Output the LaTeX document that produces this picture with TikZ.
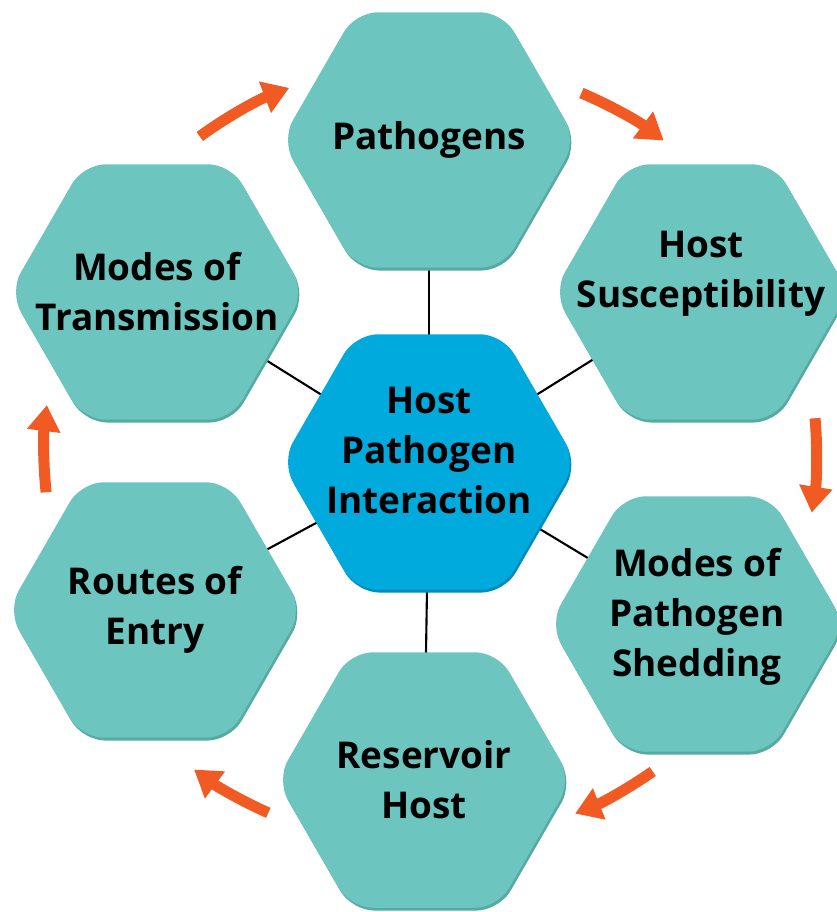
\documentclass[tikz,border=0pt]{standalone}
\usepackage{fontspec}
\setmainfont{Open Sans}
\usetikzlibrary{shapes.geometric,arrows.meta,backgrounds,shadows}

\definecolor{hexteal}{RGB}{108,197,190}
\definecolor{hexrim}{RGB}{86,170,162}
\definecolor{hubblue}{RGB}{0,170,221}
\definecolor{hubrim}{RGB}{0,140,188}
\definecolor{cycleorange}{RGB}{241,90,34}

\tikzset{
  hexbase/.style={regular polygon,regular polygon sides=6,minimum size=5.9cm,
    inner xsep=-1.6cm,inner ysep=0pt,rounded corners=0.45cm,align=center,
    font=\bfseries\fontsize{21}{28.5}\selectfont},
  hexcell/.style={hexbase,fill=hexteal,
    drop shadow={shadow xshift=0.8pt,shadow yshift=-1.6pt,fill=hexrim,opacity=1}},
  hubcell/.style={hexbase,fill=hubblue,
    drop shadow={shadow xshift=0.8pt,shadow yshift=-1.6pt,fill=hubrim,opacity=1}},
  spoke/.style={line width=1.2pt},
  flow/.style={cycleorange,line width=0.22cm,-{Triangle[width=0.64cm,length=0.52cm]}}
}

\begin{document}
\begin{tikzpicture}
\useasboundingbox (0,0) rectangle (16.74,-18.24);
% centre and the six factors around it
\node[hubcell,text depth=0.48cm] (hub) at (8.58,-9.24) {Host\\Pathogen\\Interaction};
\node[hexcell] (path) at (8.58,-2.80) {Pathogens};
\node[hexcell,text depth=0.9cm] (susc) at (14.02,-5.84) {Host\\Susceptibility};
\node[hexcell,text depth=0.46cm] (shed) at (13.94,-12.48) {Modes of\\Pathogen\\Shedding};
\node[hexcell] (res) at (8.48,-15.60) {Reservoir\\Host};
\node[hexcell] (routes) at (3.10,-12.20) {Routes of\\Entry};
\node[hexcell] (trans) at (3.14,-5.84) {Modes of\\Transmission};
% spokes behind the cells
\begin{scope}[on background layer]
\foreach \n in {path,susc,shed,res,routes,trans}
  \draw[spoke] (hub.center) -- (\n.center);
\end{scope}
% cycle arrows on the outer ring
\coordinate (ring) at (8.58,-9.04);
\draw[flow] ([shift={(126:7.8)}]ring) arc[start angle=126,end angle=111,radius=7.8];
\draw[flow] ([shift={(67:7.8)}]ring) arc[start angle=67,end angle=53,radius=7.8];
\draw[flow] ([shift={(5:7.75)}]ring) arc[start angle=5,end angle=-9,radius=7.75];
\draw[flow] ([shift={(-55:7.8)}]ring) arc[start angle=-55,end angle=-68,radius=7.8];
\draw[flow] ([shift={(246:7.9)}]ring) arc[start angle=246,end angle=233.5,radius=7.9];
\draw[flow] ([shift={(186:7.7)}]ring) arc[start angle=186,end angle=173,radius=7.7];
\end{tikzpicture}
\end{document}
